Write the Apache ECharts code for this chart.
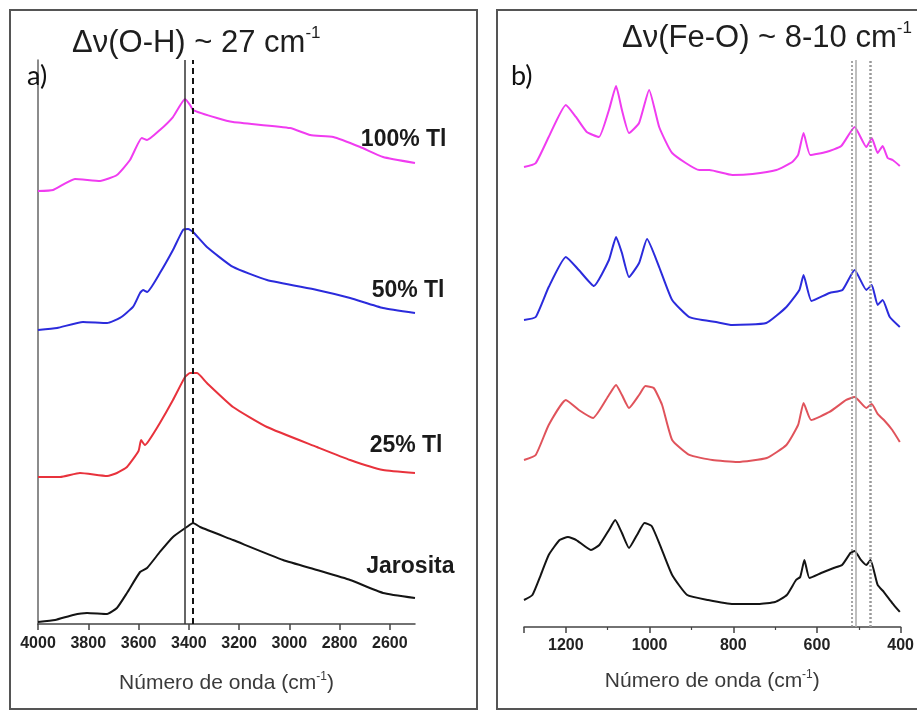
<!DOCTYPE html>
<html>
<head>
<meta charset="utf-8">
<script src="https://cdn.jsdelivr.net/npm/echarts@6/dist/echarts.min.js"></script>
<style>
  html, body { margin: 0; padding: 0; background: #fff; }
  #chart { width: 917px; height: 711px; }
</style>
</head>
<body>
<div id="chart"></div>
<script>
// ---- Panel a): O-H stretching region, [wavenumber cm-1, stacked intensity a.u.] ----
const ohJarosita = [[4000,0.35],[3932,0.71],[3860,1.60],[3805,1.95],[3725,1.77],[3686,2.84],[3646,5.50],[3594,9.22],[3566,9.93],[3515,12.77],[3463,15.43],[3408,17.20],[3383,17.91],[3355,17.20],[3224,14.89],[3025,11.35],[2890,9.57],[2758,7.80],[2627,5.50],[2500,4.61]];
const ohTl25 = [[4000,26.06],[3912,26.06],[3833,26.77],[3725,26.24],[3686,26.77],[3646,27.84],[3600,30.67],[3590,32.62],[3575,31.74],[3560,32.45],[3515,35.64],[3463,39.72],[3415,43.79],[3395,44.50],[3367,44.50],[3328,42.73],[3224,38.48],[3089,34.93],[2890,31.38],[2758,29.08],[2627,27.30],[2500,26.77]];
const ohTl50 = [[4000,52.13],[3924,52.48],[3821,53.55],[3725,53.37],[3674,54.26],[3622,56.21],[3594,58.69],[3582,59.22],[3566,58.87],[3515,62.23],[3463,66.31],[3423,69.86],[3403,70.04],[3383,69.50],[3328,66.84],[3224,63.30],[3089,60.99],[2890,59.22],[2758,57.80],[2627,56.03],[2500,55.14]];
const ohTl100 = [[4000,76.77],[3940,76.95],[3853,78.90],[3753,78.55],[3686,79.61],[3634,82.27],[3587,86.17],[3566,85.82],[3515,87.59],[3463,89.89],[3415,93.09],[3395,92.02],[3383,91.13],[3288,89.72],[3224,89.01],[2997,87.94],[2917,86.70],[2825,86.35],[2718,84.57],[2627,82.80],[2500,81.74]];

// ---- Panel b): Fe-O / sulfate region ----
const feJarosita = [[1300,4.76],[1280,5.64],[1260,9.17],[1241,12.70],[1215,15.34],[1195,15.87],[1175,15.34],[1140,13.58],[1120,14.46],[1097,17.11],[1082,18.87],[1066,16.58],[1049,13.93],[1030,16.23],[1012,18.34],[995,17.81],[975,14.46],[946,9.17],[910,5.64],[860,4.76],[800,4.06],[740,4.06],[700,4.41],[672,5.64],[650,8.29],[640,8.82],[630,11.82],[618,8.64],[590,9.52],[560,10.41],[540,10.93],[520,13.05],[510,13.40],[495,11.82],[482,10.93],[472,11.82],[455,7.41],[440,6.17],[420,4.23],[402,2.65]];
const feTl25 = [[1300,29.45],[1272,30.34],[1241,35.63],[1200,40.04],[1169,38.27],[1135,36.86],[1097,40.92],[1080,42.68],[1066,40.92],[1049,38.62],[1025,40.92],[1010,42.50],[990,42.15],[970,39.15],[946,32.98],[905,30.34],[850,29.45],[790,29.10],[720,29.81],[673,32.10],[645,35.63],[632,39.51],[614,36.51],[570,37.92],[530,40.04],[510,40.56],[482,38.62],[469,39.33],[455,37.57],[440,36.51],[420,34.74],[402,32.63]];
const feTl50 = [[1300,54.14],[1272,54.67],[1241,59.96],[1200,65.26],[1169,62.96],[1133,60.14],[1097,64.73],[1080,68.78],[1066,65.96],[1049,61.73],[1025,64.20],[1006,68.43],[977,63.49],[946,57.67],[905,54.67],[841,53.79],[802,53.26],[721,53.62],[673,56.44],[642,59.44],[632,62.08],[613,57.50],[570,58.91],[539,59.44],[510,62.96],[482,59.44],[469,60.32],[455,56.79],[443,57.67],[426,54.67],[402,52.91]];
const feTl100 = [[1300,81.13],[1272,81.83],[1241,86.42],[1200,92.06],[1176,89.95],[1150,87.30],[1121,86.42],[1097,91.18],[1080,95.41],[1066,91.18],[1049,87.13],[1025,88.89],[1001,94.71],[977,88.18],[946,83.60],[881,80.60],[857,80.60],[802,79.72],[754,79.89],[697,80.60],[659,82.01],[645,83.25],[632,87.13],[616,83.25],[578,83.77],[542,84.83],[510,88.18],[482,84.66],[469,86.24],[455,83.60],[443,84.83],[431,82.72],[419,82.36],[402,81.31]];

// Band positions marked with vertical guides (cm-1)
const ohBands = { pure: 3418, substituted: 3383 };
const feBands = [518, 508, 472];

// Tick labels
const ohTicks = [4000, 3800, 3600, 3400, 3200, 3000, 2800, 2600];

const sampleNames = ['Jarosita', '25% Tl', '50% Tl', '100% Tl'];
const colors = { jar: '#141414', tl25: '#e8323c', tl25b: '#e0535b', tl50: '#2b2bdc', tl100: '#f03cf0' };

const SANS = 'Liberation Sans, Arial, Helvetica, sans-serif';

function line(data, color, xi, extra) {
  return Object.assign({
    type: 'line',
    data: data,
    xAxisIndex: xi,
    yAxisIndex: xi,
    showSymbol: false,
    symbol: 'none',
    smooth: 0.15,
    lineStyle: { color: color, width: 2 },
    silent: true,
    animation: false
  }, extra || {});
}

// Sample name written just above the right end of its spectrum
function endTag(text, point, dx, dy) {
  return {
    symbol: 'rect',
    symbolSize: 1,
    silent: true,
    itemStyle: { color: 'rgba(0,0,0,0)' },
    data: [{ coord: point, value: text }],
    label: {
      show: true,
      formatter: text,
      position: [dx, dy],
      align: 'right',
      verticalAlign: 'middle',
      color: '#1a1a1a',
      fontFamily: SANS,
      fontWeight: 'bold',
      fontSize: 23
    }
  };
}

const axisNameRich = {
  n: { fontFamily: SANS, fontWeight: 'normal', fontSize: 21, color: '#3a3a3a', lineHeight: 24 },
  s: { fontFamily: SANS, fontWeight: 'normal', fontSize: 12, color: '#3a3a3a', lineHeight: 12, verticalAlign: 'top' }
};

const titleRich = {
  m: { fontFamily: SANS, fontWeight: 'normal', fontSize: 31, color: '#1e1e1e', lineHeight: 36 },
  s: { fontFamily: SANS, fontWeight: 'normal', fontSize: 17, color: '#1e1e1e', lineHeight: 17, verticalAlign: 'top' }
};

const panelTag = { fontFamily: 'Lato, "Open Sans", sans-serif', fontSize: 27, fontWeight: 'normal', color: '#111', lineHeight: 32 };

const option = {
  backgroundColor: '#ffffff',
  animation: false,
  title: [
    { text: '{m|Δν(O-H) ~ 27 cm}{s|-1}', left: 72, top: 25, padding: 0, textStyle: { fontWeight: 'normal', rich: titleRich } },
    { text: '{m|Δν(Fe-O) ~ 8-10 cm}{s|-1}', left: 622, top: 20, padding: 0, textStyle: { fontWeight: 'normal', rich: titleRich } },
    { text: 'a)', left: 27, top: 60, padding: 0, textStyle: panelTag },
    { text: 'b)', left: 511, top: 60, padding: 0, textStyle: panelTag }
  ],
  graphic: [
    { type: 'rect', silent: true, z: -1, shape: { x: 10, y: 10, width: 467, height: 699 }, style: { fill: 'none', stroke: '#555', lineWidth: 2 } },
    { type: 'rect', silent: true, z: -1, shape: { x: 497, y: 10, width: 440, height: 699 }, style: { fill: 'none', stroke: '#555', lineWidth: 2 } }
  ],
  grid: [
    { left: 38, right: 502, top: 60, bottom: 87 },
    { left: 524, right: 16, top: 60, bottom: 84 }
  ],
  xAxis: [
    {
      gridIndex: 0, type: 'value', min: 2500, max: 4000, inverse: true,
      name: '{n|Número de onda (cm}{s|-1}{n|)}', nameLocation: 'middle', nameGap: 47,
      nameTextStyle: { rich: axisNameRich },
      axisLine: { show: true, onZero: false, lineStyle: { color: '#444', width: 1.5 } },
      axisTick: { show: true, inside: false, length: 6, customValues: ohTicks, lineStyle: { color: '#444', width: 1.5 } },
      axisLabel: { show: true, margin: 12, customValues: ohTicks, formatter: v => String(v),
        color: '#222', fontFamily: SANS, fontWeight: 'bold', fontSize: 16 },
      splitLine: { show: false }
    },
    {
      gridIndex: 1, type: 'value', min: 400, max: 1300, interval: 200, inverse: true,
      name: '{n|Número de onda (cm}{s|-1}{n|)}', nameLocation: 'middle', nameGap: 42,
      nameTextStyle: { rich: axisNameRich },
      axisLine: { show: true, onZero: false, lineStyle: { color: '#444', width: 1.5 } },
      axisTick: { show: true, inside: false, length: 6, lineStyle: { color: '#444', width: 1.5 } },
      minorTick: { show: true, splitNumber: 2, length: 3, lineStyle: { color: '#444', width: 1.2 } },
      axisLabel: { show: true, margin: 11, color: '#222', fontFamily: SANS, fontWeight: 'bold', fontSize: 16,
        formatter: v => (v <= 1200 ? String(v) : '') },
      splitLine: { show: false }
    }
  ],
  yAxis: [
    {
      gridIndex: 0, type: 'value', min: 0, max: 100,
      axisLine: { show: true, onZero: false, lineStyle: { color: '#666', width: 1.5 } },
      axisTick: { show: false }, axisLabel: { show: false }, splitLine: { show: false }
    },
    {
      gridIndex: 1, type: 'value', min: 0, max: 100, show: false,
      splitLine: { show: false }
    }
  ],
  series: [
    line(ohJarosita, colors.jar, 0, {
      name: sampleNames[0],
      markPoint: endTag(sampleNames[0], ohJarosita[ohJarosita.length - 1], 40, -31),
      markLine: {
        silent: true, symbol: ['none', 'none'], label: { show: false },
        data: [
          { xAxis: ohBands.pure, lineStyle: { type: 'solid', color: '#333', width: 1.5 } },
          { xAxis: ohBands.substituted, lineStyle: { type: [6, 4], color: '#111', width: 2 } }
        ]
      }
    }),
    line(ohTl25, colors.tl25, 0, { name: sampleNames[1], markPoint: endTag(sampleNames[1], ohTl25[ohTl25.length - 1], 28, -27) }),
    line(ohTl50, colors.tl50, 0, { name: sampleNames[2], markPoint: endTag(sampleNames[2], ohTl50[ohTl50.length - 1], 30, -22) }),
    line(ohTl100, colors.tl100, 0, { name: sampleNames[3], markPoint: endTag(sampleNames[3], ohTl100[ohTl100.length - 1], 32, -23) }),

    line(feJarosita, colors.jar, 1, {
      name: sampleNames[0] + ' b',
      markLine: {
        silent: true, symbol: ['none', 'none'], label: { show: false },
        data: [
          { xAxis: feBands[0], lineStyle: { type: [2, 2], color: '#888', width: 1.5 } },
          { xAxis: feBands[1], lineStyle: { type: 'solid', color: '#aaa', width: 1.5 } },
          { xAxis: feBands[2], lineStyle: { type: [2, 2], color: '#999', width: 2.5 } }
        ]
      }
    }),
    line(feTl25, colors.tl25b, 1, { name: sampleNames[1] + ' b' }),
    line(feTl50, colors.tl50, 1, { name: sampleNames[2] + ' b' }),
    line(feTl100, colors.tl100, 1, { name: sampleNames[3] + ' b' })
  ]
};

const chart = echarts.init(document.getElementById('chart'), null, { renderer: 'canvas' });
chart.setOption(option);
</script>
</body>
</html>
